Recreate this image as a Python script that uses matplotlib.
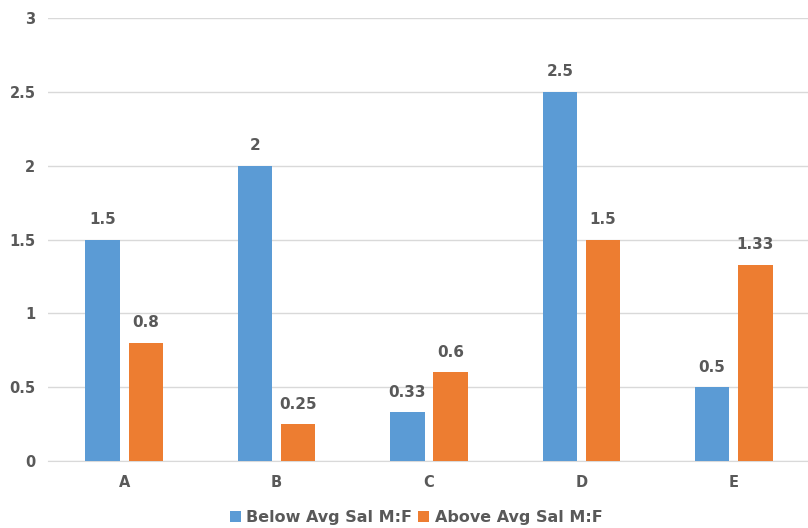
import numpy as np
import matplotlib.pyplot as plt

# Kategórie a hodnoty pomerov
categories = ["A", "B", "C", "D", "E"]
below_avg = [1.5, 2, 0.33, 2.5, 0.5]
above_avg = [0.8, 0.25, 0.6, 1.5, 1.33]
below_labels = ["1.5", "2", "0.33", "2.5", "0.5"]
above_labels = ["0.8", "0.25", "0.6", "1.5", "1.33"]
yticks = [0, 0.5, 1, 1.5, 2, 2.5, 3]
ytick_labels = ["0", "0.5", "1", "1.5", "2", "2.5", "3"]

blue = "#5b9bd5"
orange = "#ed7d31"
txt = "#595959"
fs = 11

fig = plt.figure(figsize=(8.08, 5.28), dpi=100)
ax = fig.add_axes([48 / 808, 67 / 528, 762 / 808, 443 / 528])

x = np.arange(len(categories))
w = 0.225
off = 0.142
b1 = ax.bar(x - off, below_avg, w, color=blue, zorder=3, label="Below Avg Sal M:F")
b2 = ax.bar(x + off, above_avg, w, color=orange, zorder=3, label="Above Avg Sal M:F")

for bars, labels in ((b1, below_labels), (b2, above_labels)):
    ax.bar_label(bars, labels=labels, padding=9, fontsize=fs, fontweight="bold", color=txt)

ax.set_xlim(-0.5, len(categories) - 0.5)
ax.set_ylim(0, 3)
ax.set_yticks(yticks)
ax.set_yticklabels(ytick_labels)
ax.set_xticks(x)
ax.set_xticklabels(categories)
ax.tick_params(axis="both", length=0, labelsize=fs - 0.5, labelcolor=txt)
ax.tick_params(axis="y", pad=9)
ax.tick_params(axis="x", pad=10)
for lbl in ax.get_xticklabels() + ax.get_yticklabels():
    lbl.set_fontweight("bold")

ax.grid(axis="y", color="#d9d9d9", linewidth=1, zorder=0)
for s in ["top", "right", "left"]:
    ax.spines[s].set_visible(False)
ax.spines["bottom"].set_color("#d9d9d9")

leg = fig.legend(loc="lower center", bbox_to_anchor=(0.515, -0.022), ncol=2, frameon=False,
                 handlelength=0.7, handleheight=0.7, handletextpad=0.35, columnspacing=0.35,
                 prop={"size": fs + 0.5, "weight": "bold"})
for t in leg.get_texts():
    t.set_color(txt)

fig.savefig("out.png", dpi=100)
